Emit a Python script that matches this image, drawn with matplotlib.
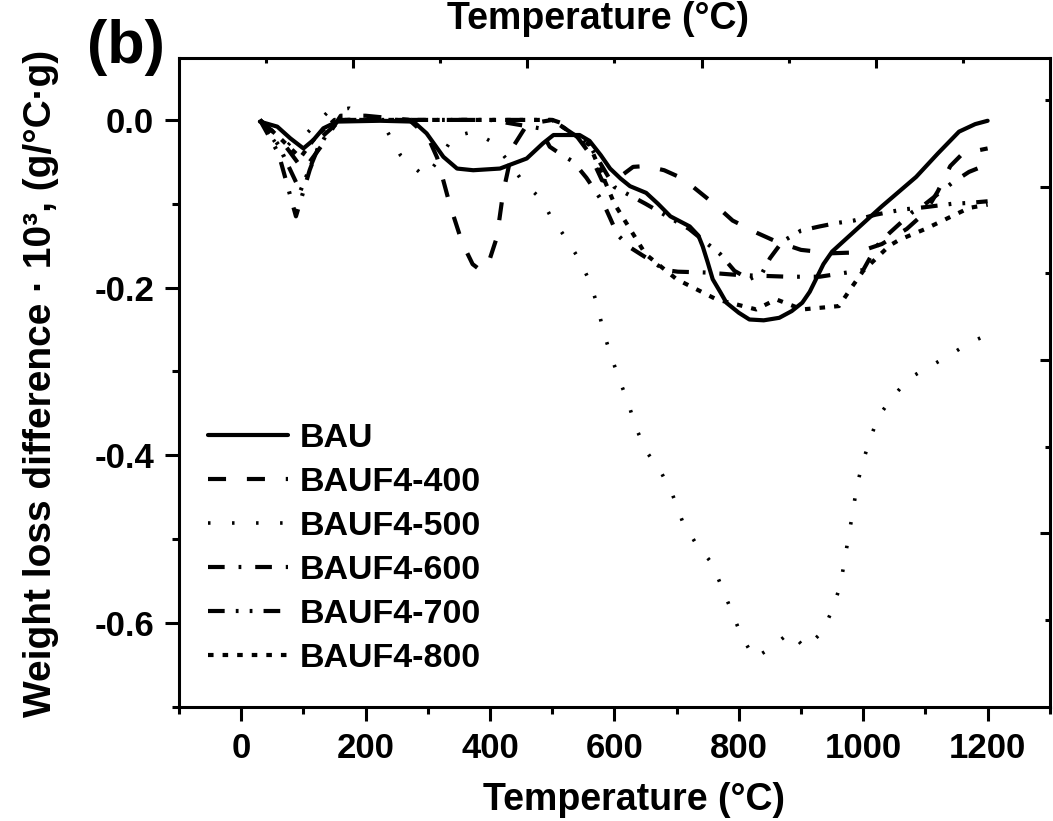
import numpy as np
import matplotlib
matplotlib.use('Agg')
import matplotlib.pyplot as plt
from matplotlib.ticker import FixedLocator, NullFormatter

plt.rcParams['font.family'] = ['Liberation Sans', 'DejaVu Sans']
plt.rcParams['font.weight'] = 'bold'
plt.rcParams['lines.scale_dashes'] = False

## curve data (temperature in C, weight loss diff *1e3)
t_bau = [30, 58, 79, 100, 116, 132, 154, 223, 277, 298, 325, 347, 373, 416, 459, 485, 502, 544, 560,
         578, 593, 610, 625, 651, 670, 690, 721, 735, 742, 750, 758, 770, 780, 800, 817, 840, 865, 885,
         902, 914, 924, 936, 950, 990, 1030, 1085, 1120, 1154, 1180, 1200]
y_bau = [-0.002, -0.008, -0.022, -0.034, -0.024, -0.01, -0.002, -0.001, -0.002, -0.016, -0.044, -0.058,
         -0.060, -0.058, -0.046, -0.028, -0.018, -0.018, -0.025, -0.042, -0.058, -0.07, -0.079, -0.087,
         -0.1, -0.115, -0.127, -0.138, -0.151, -0.17, -0.19, -0.205, -0.218, -0.23, -0.238, -0.239,
         -0.236, -0.228, -0.218, -0.205, -0.19, -0.172, -0.157, -0.13, -0.103, -0.068, -0.04, -0.014,
         -0.005, -0.001]

t_400 = [30, 60, 100, 130, 160, 200, 270, 300, 315, 335, 355, 372, 386, 400, 411, 421, 437, 460, 500,
         520, 540, 560, 580, 597, 612, 630, 650, 680, 710, 735, 760, 790, 830, 860, 900, 950, 990, 1030,
         1070, 1100, 1120, 1140, 1160, 1200]
y_400 = [0.0, -0.02, -0.06, -0.03, 0.005, 0.005, 0.0, -0.02, -0.045, -0.1, -0.146, -0.172, -0.18,
         -0.165, -0.14, -0.087, -0.032, -0.005, 0.0, -0.005, -0.02, -0.04, -0.072, -0.075, -0.066,
         -0.056, -0.055, -0.06, -0.07, -0.085, -0.1, -0.12, -0.135, -0.145, -0.155, -0.159, -0.158,
         -0.148, -0.13, -0.11, -0.085, -0.055, -0.04, -0.034]

t_500 = [30, 65, 79, 100, 140, 174, 235, 256, 267, 296, 320, 341, 373, 405, 430, 453, 483, 496, 520,
         544, 561, 573, 582, 594, 607, 622, 634, 651, 675, 694, 709, 730, 757, 773, 789, 804, 825, 853,
         882, 907, 935, 952, 963, 970, 976, 983, 989, 998, 1010, 1024, 1049, 1074, 1107, 1138, 1168, 1200]
y_500 = [0.0, -0.038, -0.027, -0.02, 0.01, 0.014, -0.014, -0.042, -0.05, -0.068, -0.045, -0.02, -0.014,
         -0.027, -0.05, -0.074, -0.095, -0.113, -0.139, -0.167, -0.194, -0.222, -0.252, -0.28, -0.308,
         -0.337, -0.366, -0.395, -0.42, -0.448, -0.478, -0.504, -0.529, -0.558, -0.587, -0.615, -0.642,
         -0.629, -0.611, -0.63, -0.61, -0.581, -0.555, -0.526, -0.498, -0.469, -0.44, -0.411, -0.383,
         -0.354, -0.329, -0.308, -0.294, -0.281, -0.267, -0.256]

t_600 = [30, 60, 88, 110, 130, 160, 200, 300, 400, 480, 496, 512, 534, 555, 566, 582, 593, 605, 625,
         644, 657, 681, 702, 748, 800, 880, 930, 1000, 1021, 1042, 1079, 1095, 1143, 1170, 1200]
y_600 = [0.0, -0.04, -0.115, -0.06, -0.02, 0.0, 0.0, 0.0, 0.0, -0.01, -0.032, -0.04, -0.05, -0.069,
         -0.081, -0.099, -0.117, -0.137, -0.152, -0.161, -0.167, -0.179, -0.181, -0.182, -0.185, -0.187,
         -0.187, -0.179, -0.151, -0.135, -0.11, -0.103, -0.075, -0.062, -0.053]

t_700 = [30, 60, 95, 120, 150, 200, 300, 400, 500, 560, 600, 650, 720, 770, 793, 817, 838, 850, 870,
         900, 930, 957, 985, 1020, 1062, 1100, 1143, 1170, 1200]
y_700 = [0.0, -0.03, -0.085, -0.04, 0.0, 0.0, 0.0, 0.0, 0.0, -0.03, -0.08, -0.1, -0.13, -0.16, -0.18,
         -0.19, -0.182, -0.165, -0.145, -0.132, -0.127, -0.123, -0.12, -0.113, -0.107, -0.104, -0.1,
         -0.099, -0.097]

t_800 = [30, 60, 95, 120, 150, 200, 300, 400, 500, 560, 600, 650, 700, 764, 828, 860, 902, 961, 981,
         1000, 1042, 1058, 1100, 1170, 1200]
y_800 = [0.0, -0.02, -0.045, -0.02, 0.0, 0.0, 0.0, 0.0, 0.0, -0.03, -0.1, -0.16, -0.19, -0.214, -0.226,
         -0.214, -0.226, -0.222, -0.2, -0.18, -0.15, -0.143, -0.13, -0.105, -0.101]

labels = ['BAU', 'BAUF4-400', 'BAUF4-500', 'BAUF4-600', 'BAUF4-700', 'BAUF4-800']

## dash patterns in points (scale_dashes off)
styles = ['-', (0, (13, 15)), (0, (1.8, 15.5)), (0, (12, 10, 2, 10)), (0, (12, 8, 2, 8, 2, 8)),
          (0, (4, 6.5))]

fig = plt.figure(figsize=(10.53, 8.21), dpi=100)
ax = fig.add_axes([0.170, 0.139, 0.827, 0.790])

data = [(t_bau, y_bau), (t_400, y_400), (t_500, y_500), (t_600, y_600), (t_700, y_700), (t_800, y_800)]
widths = [3.0, 3.0, 2.6, 3.0, 3.0, 3.0]
for (t, y), ls, lw, lab in zip(data, styles, widths, labels):
    ax.plot(t, y, color='black', linestyle=ls, linewidth=lw, label=lab,
            dash_capstyle='butt', solid_capstyle='round', solid_joinstyle='round')

ax.set_xlim(-100, 1300)
ax.set_ylim(-0.7, 0.0735)
ax.xaxis.set_major_locator(FixedLocator([0, 200, 400, 600, 800, 1000, 1200]))
ax.xaxis.set_minor_locator(FixedLocator([-100, 100, 300, 500, 700, 900, 1100, 1300]))
ax.yaxis.set_major_locator(FixedLocator([0.0, -0.2, -0.4, -0.6]))
ax.yaxis.set_minor_locator(FixedLocator([-0.1, -0.3, -0.5, -0.7]))
ax.set_xticklabels(['0', '200', '400', '600', '800', '1000', '1200'])
ax.set_yticklabels(['0.0', '-0.2', '-0.4', '-0.6'])
ax.tick_params(axis='both', which='major', direction='out', length=10, width=2.2, labelsize=25, pad=8)
ax.tick_params(axis='both', which='minor', direction='out', length=5, width=2.2)
for s in ax.spines.values():
    s.set_linewidth(2.2)

## top axis (separate scale, no labels)
axt = ax.twiny()
axt.set_xlim(0, 10)
axt.xaxis.set_major_locator(FixedLocator([2, 4, 6, 8]))
axt.xaxis.set_minor_locator(FixedLocator([1, 3, 5, 7, 9]))
axt.xaxis.set_major_formatter(NullFormatter())
axt.tick_params(axis='x', which='major', direction='in', length=7, width=2.2)
axt.tick_params(axis='x', which='minor', direction='in', length=3.5, width=2.2)

## right axis (separate scale, no labels)
axr = ax.twinx()
axr.set_ylim(0, 7.48)
axr.yaxis.set_major_locator(FixedLocator([2, 4, 6]))
axr.yaxis.set_minor_locator(FixedLocator([1, 3, 5, 7]))
axr.yaxis.set_major_formatter(NullFormatter())
axr.tick_params(axis='y', which='major', direction='in', length=7, width=2.2)
axr.tick_params(axis='y', which='minor', direction='in', length=3.5, width=2.2)
axr.spines['top'].set_visible(False)

leg = ax.legend(loc='upper left', bbox_to_anchor=(0.1975, 0.4847), bbox_transform=fig.transFigure,
                frameon=False, fontsize=24.5, handlelength=2.35, handletextpad=0.35,
                labelspacing=0.38, borderpad=0, borderaxespad=0)

fig.text(634 / 1053, 1 - 800 / 821, 'Temperature (°C)', ha='center', va='center', fontsize=27)
fig.text(598 / 1053, 1 - 1 / 821, 'Temperature (°C)', ha='center', va='top', fontsize=27)
fig.text(41 / 1053, 1 - 383 / 821, 'Weight loss difference · 10³, (g/°C·g)',
         ha='center', va='center', rotation=90, fontsize=28)
fig.text(126 / 1053, 1 - 48 / 821, '(b)', ha='center', va='center', fontsize=44)

fig.savefig('out.png', dpi=100)
